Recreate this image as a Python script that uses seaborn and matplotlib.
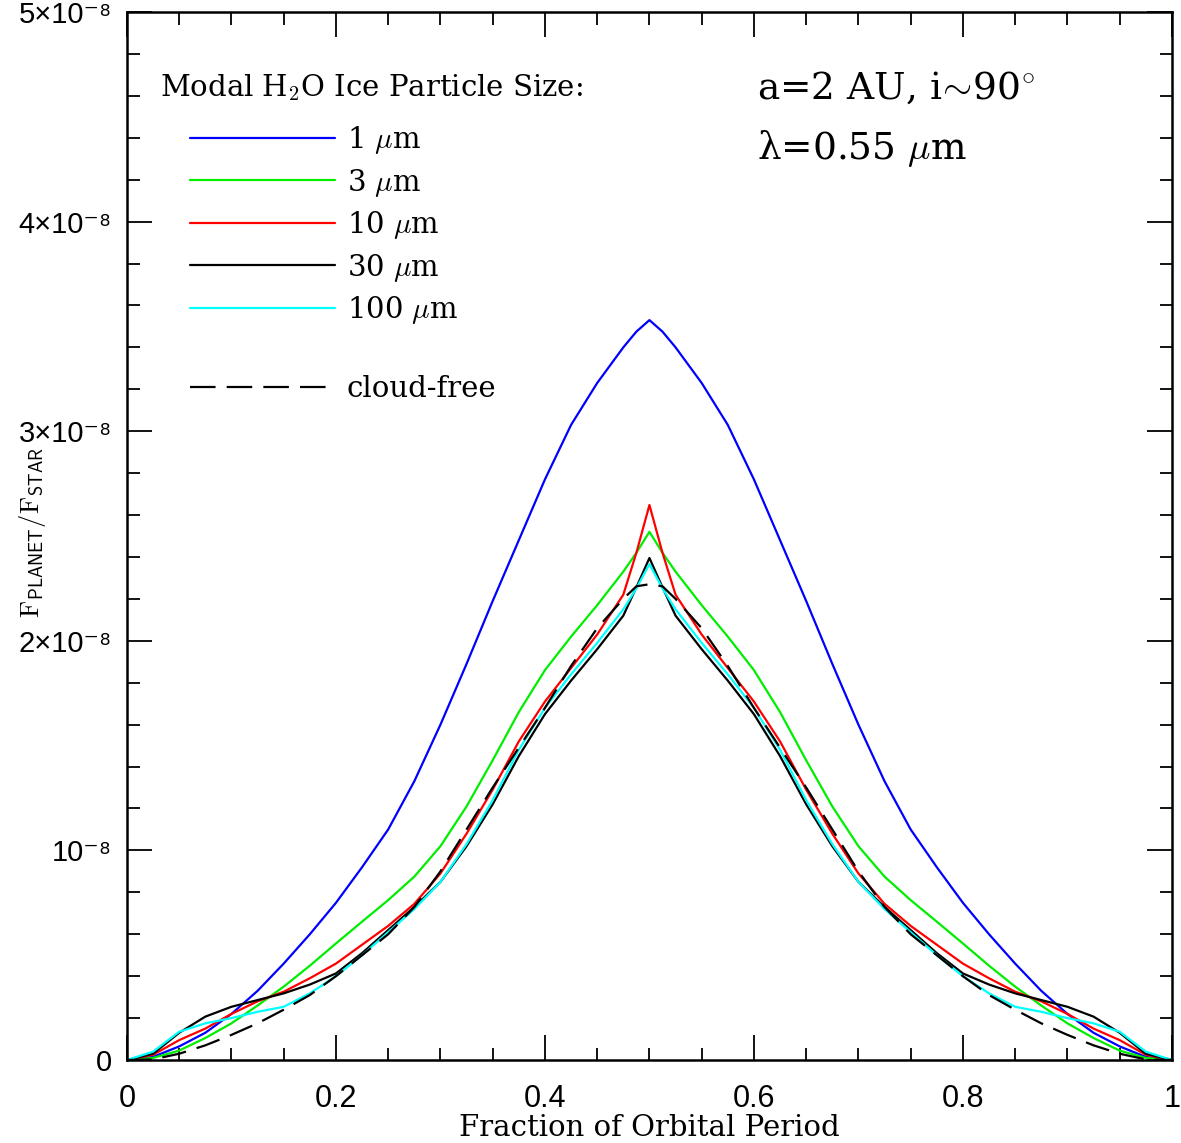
import numpy as np
import pandas as pd
import matplotlib
matplotlib.use("Agg")
import matplotlib.pyplot as plt
import seaborn as sns
from matplotlib.lines import Line2D
from matplotlib.ticker import MultipleLocator

# orbital phase and planet/star flux ratio (units of 1e-8)
phase = [0, 0.025, 0.05, 0.075, 0.1, 0.125, 0.15, 0.175, 0.2, 0.225, 0.25, 0.275,
         0.3, 0.325, 0.35, 0.375, 0.4, 0.425, 0.45, 0.475, 0.4875, 0.5, 0.5125,
         0.525, 0.55, 0.575, 0.6, 0.625, 0.65, 0.675, 0.7, 0.725, 0.75, 0.775,
         0.8, 0.825, 0.85, 0.875, 0.9, 0.925, 0.95, 0.975, 1.0]

flux_1um = [0, 0.015, 0.065, 0.13, 0.22, 0.33, 0.46, 0.60, 0.75, 0.92, 1.10, 1.33,
            1.60, 1.89, 2.19, 2.48, 2.77, 3.03, 3.23, 3.40, 3.475, 3.53, 3.475,
            3.40, 3.23, 3.03, 2.77, 2.48, 2.19, 1.89, 1.60, 1.33, 1.10, 0.92,
            0.75, 0.60, 0.46, 0.33, 0.22, 0.13, 0.065, 0.015, 0]
flux_3um = [0, 0.01, 0.045, 0.105, 0.175, 0.26, 0.35, 0.45, 0.556, 0.66, 0.763, 0.875,
            1.02, 1.21, 1.43, 1.66, 1.86, 2.02, 2.17, 2.33, 2.42, 2.52, 2.42,
            2.33, 2.17, 2.02, 1.86, 1.66, 1.43, 1.21, 1.02, 0.875, 0.763, 0.66,
            0.556, 0.45, 0.35, 0.26, 0.175, 0.105, 0.045, 0.01, 0]
flux_10um = [0, 0.025, 0.095, 0.15, 0.22, 0.28, 0.326, 0.39, 0.46, 0.55, 0.64, 0.745,
             0.89, 1.08, 1.29, 1.52, 1.71, 1.87, 2.03, 2.22, 2.42, 2.648, 2.42,
             2.22, 2.03, 1.87, 1.71, 1.52, 1.29, 1.08, 0.89, 0.745, 0.64, 0.55,
             0.46, 0.39, 0.326, 0.28, 0.22, 0.15, 0.095, 0.025, 0]
flux_30um = [0, 0.03, 0.13, 0.207, 0.254, 0.286, 0.318, 0.36, 0.413, 0.51, 0.62, 0.73,
             0.85, 1.02, 1.22, 1.45, 1.65, 1.81, 1.96, 2.12, 2.255, 2.395, 2.255,
             2.12, 1.96, 1.81, 1.65, 1.45, 1.22, 1.02, 0.85, 0.73, 0.62, 0.51,
             0.413, 0.36, 0.318, 0.286, 0.254, 0.207, 0.13, 0.03, 0]
flux_100um = [0, 0.04, 0.135, 0.175, 0.20, 0.23, 0.254, 0.318, 0.40, 0.50, 0.61, 0.72,
              0.85, 1.03, 1.24, 1.48, 1.68, 1.84, 1.99, 2.15, 2.25, 2.366, 2.25,
              2.15, 1.99, 1.84, 1.68, 1.48, 1.24, 1.03, 0.85, 0.72, 0.61, 0.50,
              0.40, 0.318, 0.254, 0.23, 0.20, 0.175, 0.135, 0.04, 0]
flux_clear = [0, 0.003, 0.03, 0.07, 0.12, 0.175, 0.24, 0.31, 0.40, 0.50, 0.60, 0.73,
              0.90, 1.10, 1.30, 1.49, 1.68, 1.88, 2.06, 2.20, 2.26, 2.27, 2.26,
              2.20, 2.06, 1.88, 1.68, 1.49, 1.30, 1.10, 0.90, 0.73, 0.60, 0.50,
              0.40, 0.31, 0.24, 0.175, 0.12, 0.07, 0.03, 0.003, 0]

series_names = ["1 $\\mu$m", "3 $\\mu$m", "10 $\\mu$m", "30 $\\mu$m", "100 $\\mu$m", "cloud-free"]
series_flux = [flux_1um, flux_3um, flux_10um, flux_30um, flux_100um, flux_clear]
colors = ["#0000ff", "#00ee00", "#ff0000", "#000000", "#00ffff", "#000000"]

df = pd.concat([pd.DataFrame({"phase": phase, "flux": f, "series": n})
                for n, f in zip(series_names, series_flux)], ignore_index=True)

sns.set_theme(style="ticks")
plt.rcParams.update({
    "font.family": ["DejaVu Serif"],
    "mathtext.fontset": "cm",
    "axes.linewidth": 1.8,
    "text.color": "black",
    "axes.labelcolor": "black",
    "axes.edgecolor": "black",
    "xtick.color": "black",
    "ytick.color": "black",
})

fig = plt.figure(figsize=(11.81, 11.43), dpi=100)
ax = fig.add_axes([0.1075, 0.0726, 0.8848, 0.9169])

palette = dict(zip(series_names, colors))
dashes = {n: "" for n in series_names}
dashes["cloud-free"] = (11, 5)
sns.lineplot(data=df, x="phase", y="flux", hue="series", style="series",
             palette=palette, dashes=dashes, linewidth=1.6, errorbar=None,
             legend=False, ax=ax)

ax.set_xlim(0, 1)
ax.set_ylim(0, 5)
ax.xaxis.set_major_locator(MultipleLocator(0.2))
ax.xaxis.set_minor_locator(MultipleLocator(0.05))
ax.yaxis.set_major_locator(MultipleLocator(1))
ax.yaxis.set_minor_locator(MultipleLocator(0.2))
ax.tick_params(which="both", direction="in", top=True, right=True, width=1.3)
ax.tick_params(which="major", length=18)
ax.tick_params(which="minor", length=9)
ax.tick_params(axis="x", pad=17)
ax.tick_params(axis="y", pad=11)

sans = ["Liberation Sans", "DejaVu Sans"]
ax.set_xticks([0, 0.2, 0.4, 0.6, 0.8, 1.0])
ax.set_xticklabels(["0", "0.2", "0.4", "0.6", "0.8", "1"], fontsize=22, fontfamily=sans)
ax.set_yticks([0, 1, 2, 3, 4, 5])
ax.set_yticklabels(["0", "10⁻⁸", "2×10⁻⁸", "3×10⁻⁸", "4×10⁻⁸", "5×10⁻⁸"],
                   fontsize=21, fontfamily=sans)

ax.set_xlabel("Fraction of Orbital Period", fontsize=21)
ax.xaxis.set_label_coords(0.5, -0.065)
ax.xaxis.label.set_va("center")
ax.set_ylabel(r"$\mathrm{F}_{\mathsf{PLANET}}/\mathrm{F}_{\mathsf{STAR}}$", fontsize=19)
ax.yaxis.set_label_coords(-0.09, 0.503)
ax.yaxis.label.set_va("center")

# legend, with one empty row before the cloud-free entry
handles = []
for n, c in zip(series_names[:5], colors[:5]):
    handles.append(Line2D([], [], color=c, lw=1.6, label=n))
handles.append(Line2D([], [], color="none", label="x"))
handles.append(Line2D([], [], color="black", lw=1.6, ls=(0, (11.5, 5)), label="cloud-free"))
leg = ax.legend(handles=handles, loc="upper left", bbox_to_anchor=(0.0603, 0.893),
                frameon=False, fontsize=21, handlelength=4.97, handletextpad=0.41,
                labelspacing=0.36, borderpad=0, borderaxespad=0)
leg.get_texts()[5].set_alpha(0)

ax.text(0.0316, 0.9275, "Modal H$_2$O Ice Particle Size:", transform=ax.transAxes,
        fontsize=21, va="center", ha="left")
ax.text(0.603, 0.9275, r"a=2 AU, i$\!\sim\!$90$^{\circ}$", transform=ax.transAxes,
        fontsize=27, va="center", ha="left")
ax.text(0.603, 0.870, r"λ=0.55 $\mu$m", transform=ax.transAxes,
        fontsize=27, va="center", ha="left")

fig.savefig("out.png", dpi=100)
